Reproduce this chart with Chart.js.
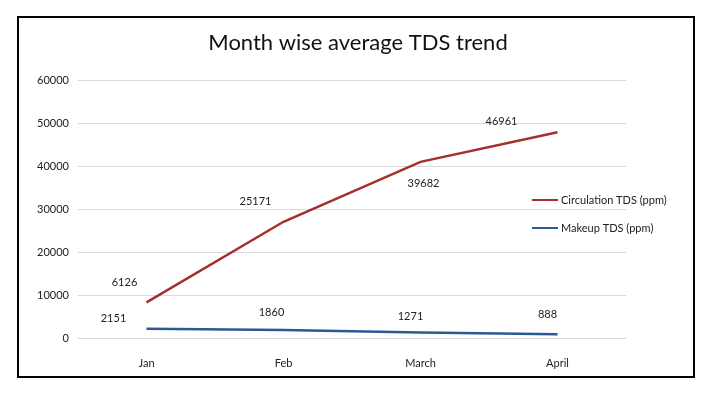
<!DOCTYPE html>
<html>
<head>
<meta charset="utf-8">
<script src="https://cdn.jsdelivr.net/npm/chart.js@4/dist/chart.umd.min.js"></script>
<style>
  html, body { margin: 0; padding: 0; background: #ffffff; }
  #wrap { position: relative; width: 709px; height: 393px; }
  #frame {
    position: absolute; left: 17px; top: 16px; width: 674px; height: 358px;
    border: 2px solid #000000; pointer-events: none;
  }
  canvas { position: absolute; left: 0; top: 0; }
</style>
</head>
<body>
<div id="wrap">
  <canvas id="tdsChart" width="709" height="393"></canvas>
  <div id="frame"></div>
</div>
<script>
const months = ['Jan', 'Feb', 'March', 'April']
const circulationTds = [6126, 25171, 39682, 46961]
const makeupTds = [2151, 1860, 1271, 888]
const yTicks = [0, 10000, 20000, 30000, 40000, 50000, 60000]

const chartTitle = 'Month wise average TDS trend'
const FONT = 'Lato'

// where each value label sits next to its point (dx, dy in px)
const labelOffsets = {
  circulation: [[-22, -20], [-28, -20], [3, 22], [-56, -11]],
  makeup: [[-33, -10], [-12, -18], [-10, -16], [-10, -20]]
}

// title, legend and value labels drawn on top
const extrasPlugin = {
  id: 'extras',
  afterDatasetsDraw(chart) {
    const ctx = chart.ctx
    ctx.save()

    // title
    ctx.fillStyle = '#111111'
    ctx.font = `22px ${FONT}`
    ctx.textAlign = 'center'
    ctx.textBaseline = 'middle'
    ctx.fillText(chartTitle, 358, 43)

    // value labels
    ctx.font = `11px ${FONT}`
    ctx.fillStyle = '#222222'
    chart.data.datasets.forEach((ds, i) => {
      const meta = chart.getDatasetMeta(i)
      const offs = labelOffsets[ds.key]
      meta.data.forEach((pt, j) => {
        ctx.fillText(ds.data[j], pt.x + offs[j][0], pt.y + offs[j][1])
      })
    })

    // legend (circulation first)
    const items = [chart.data.datasets[1], chart.data.datasets[0]]
    ctx.textAlign = 'left'
    items.forEach((ds, k) => {
      const y = 200 + k * 28
      ctx.strokeStyle = ds.borderColor
      ctx.lineWidth = 2
      ctx.beginPath()
      ctx.moveTo(532, y)
      ctx.lineTo(558, y)
      ctx.stroke()
      ctx.fillStyle = '#222222'
      ctx.fillText(ds.label, 561, y)
    })
    ctx.restore()
  }
}

const ctx = document.getElementById('tdsChart').getContext('2d')

new Chart(ctx, {
  type: 'line',
  data: {
    labels: months,
    datasets: [
      {
        key: 'makeup',
        label: 'Makeup TDS (ppm)',
        data: makeupTds,
        borderColor: '#2b5a94',
        borderWidth: 2.5,
        pointRadius: 0,
        fill: false,
        tension: 0
      },
      {
        key: 'circulation',
        label: 'Circulation TDS (ppm)',
        data: circulationTds,
        borderColor: '#a3302d',
        borderWidth: 2.5,
        pointRadius: 0,
        fill: false,
        tension: 0
      }
    ]
  },
  options: {
    responsive: false,
    animation: false,
    layout: {
      padding: { top: 80, right: 83, left: 0, bottom: 0 }
    },
    plugins: {
      legend: { display: false },
      title: { display: false },
      tooltip: { enabled: false }
    },
    scales: {
      x: {
        offset: true,
        grid: { display: false },
        border: { display: false },
        ticks: {
          color: '#222222',
          font: { family: FONT, size: 11 },
          padding: 11
        },
        afterFit(scale) { scale.height = 55 }
      },
      y: {
        stacked: true,
        min: 0,
        max: 60000,
        afterBuildTicks(scale) {
          scale.ticks = yTicks.map(v => ({ value: v }))
        },
        grid: { color: '#d9d9d9', lineWidth: 1, drawTicks: false },
        border: { display: false },
        ticks: {
          color: '#222222',
          font: { family: FONT, size: 11 },
          padding: 9,
          callback: v => String(v)
        },
        afterFit(scale) { scale.width = 78 }
      }
    }
  },
  plugins: [extrasPlugin]
})
</script>
</body>
</html>
